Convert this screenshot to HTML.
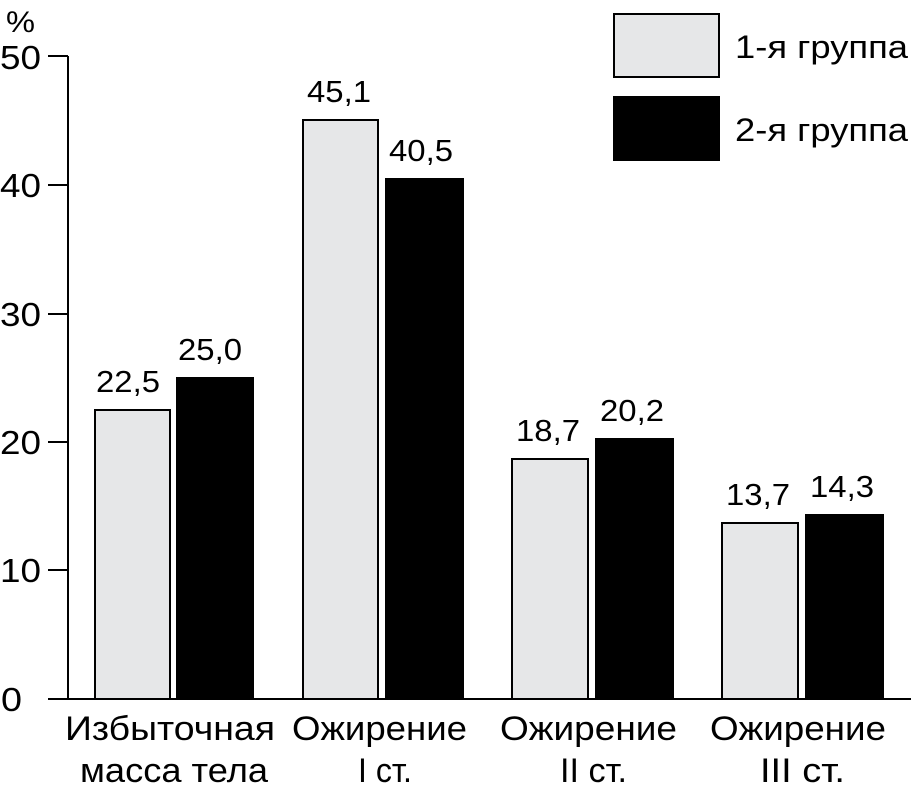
<!DOCTYPE html>
<html><head><meta charset="utf-8"><style>
body{margin:0;background:#fff}
svg{display:block}
text{font-family:"Liberation Sans",sans-serif;fill:#000}
</style></head><body>
<svg width="911" height="796" viewBox="0 0 911 796">
<g stroke="#000" stroke-width="2">
<line x1="68" y1="56" x2="68" y2="699"/>
<line x1="48" y1="699" x2="911" y2="699"/>
<line x1="48" y1="56" x2="68" y2="56"/>
<line x1="48" y1="185" x2="68" y2="185"/>
<line x1="48" y1="314" x2="68" y2="314"/>
<line x1="48" y1="442" x2="68" y2="442"/>
<line x1="48" y1="570" x2="68" y2="570"/>
</g>
<g font-size="33">
<text x="0" y="69" textLength="41" lengthAdjust="spacingAndGlyphs">50</text>
<text x="0" y="197" textLength="41" lengthAdjust="spacingAndGlyphs">40</text>
<text x="0" y="326" textLength="41" lengthAdjust="spacingAndGlyphs">30</text>
<text x="0" y="454" textLength="41" lengthAdjust="spacingAndGlyphs">20</text>
<text x="0" y="582" textLength="41" lengthAdjust="spacingAndGlyphs">10</text>
<text x="1" y="711" textLength="21" lengthAdjust="spacingAndGlyphs">0</text>
</g>
<text x="6" y="32" font-size="30" textLength="29" lengthAdjust="spacingAndGlyphs">%</text>
<g stroke="#000" stroke-width="2">
<rect x="95" y="410" width="75" height="289" fill="#e6e7e8"/>
<rect x="177" y="378" width="76" height="321" fill="#000"/>
<rect x="303" y="120" width="75" height="579" fill="#e6e7e8"/>
<rect x="386" y="179" width="77" height="520" fill="#000"/>
<rect x="512" y="459" width="76" height="240" fill="#e6e7e8"/>
<rect x="596" y="439" width="77" height="260" fill="#000"/>
<rect x="722" y="523" width="76" height="176" fill="#e6e7e8"/>
<rect x="806" y="515" width="77" height="184" fill="#000"/>
<rect x="614" y="14" width="105" height="63" fill="#e6e7e8"/>
<rect x="614" y="97" width="105" height="63" fill="#000"/>
</g>
<g font-size="31">
<text x="96" y="392" textLength="64" lengthAdjust="spacingAndGlyphs">22,5</text>
<text x="178" y="360" textLength="64" lengthAdjust="spacingAndGlyphs">25,0</text>
<text x="307" y="102" textLength="64" lengthAdjust="spacingAndGlyphs">45,1</text>
<text x="389" y="161" textLength="64" lengthAdjust="spacingAndGlyphs">40,5</text>
<text x="516" y="441" textLength="64" lengthAdjust="spacingAndGlyphs">18,7</text>
<text x="600" y="421" textLength="64" lengthAdjust="spacingAndGlyphs">20,2</text>
<text x="726" y="505" textLength="64" lengthAdjust="spacingAndGlyphs">13,7</text>
<text x="810" y="497" textLength="64" lengthAdjust="spacingAndGlyphs">14,3</text>
</g>
<g font-size="32">
<text x="735" y="58" textLength="173" lengthAdjust="spacingAndGlyphs">1-я группа</text>
<text x="735" y="141" textLength="173" lengthAdjust="spacingAndGlyphs">2-я группа</text>
</g>
<g font-size="34">
<text x="65" y="740" textLength="210" lengthAdjust="spacingAndGlyphs">Избыточная</text>
<text x="80" y="782" textLength="188" lengthAdjust="spacingAndGlyphs">масса тела</text>
<text x="292" y="740" textLength="175" lengthAdjust="spacingAndGlyphs">Ожирение</text>
<text x="358" y="782" textLength="54" lengthAdjust="spacingAndGlyphs">I ст.</text>
<text x="500" y="740" textLength="177" lengthAdjust="spacingAndGlyphs">Ожирение</text>
<text x="560" y="782" textLength="67" lengthAdjust="spacingAndGlyphs">II ст.</text>
<text x="710" y="740" textLength="176" lengthAdjust="spacingAndGlyphs">Ожирение</text>
<text x="760" y="782" textLength="85" lengthAdjust="spacingAndGlyphs">III ст.</text>
</g>
</svg>
</body></html>
